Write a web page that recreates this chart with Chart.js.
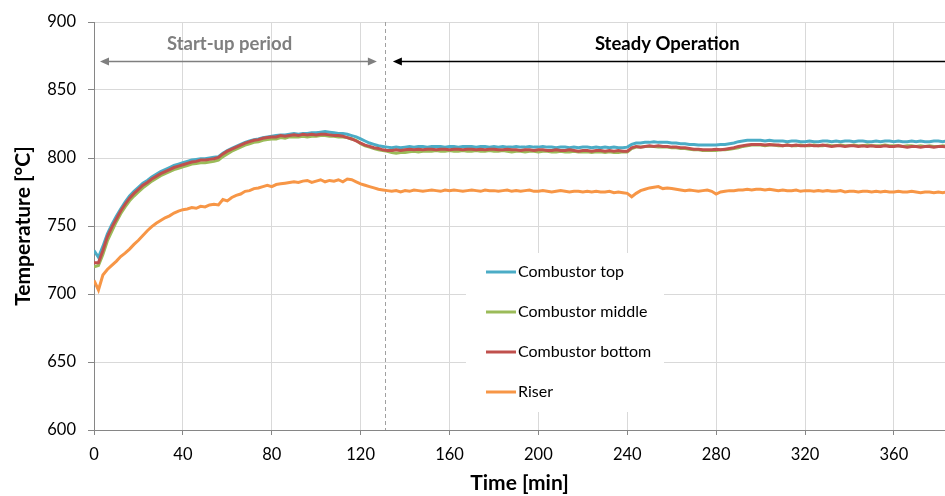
<!DOCTYPE html>
<html>
<head>
<meta charset="utf-8">
<script src="https://cdn.jsdelivr.net/npm/chart.js@4.4.0/dist/chart.umd.min.js"></script>
<style>
  html, body { margin: 0; padding: 0; background: #fff; }
  #wrap { width: 945px; height: 496px; }
</style>
</head>
<body>
<div id="wrap"><canvas id="chart" width="945" height="496"></canvas></div>
<script>
// Time axis (min), one reading every 2 minutes
const minutes = [
  0, 2, 4, 6, 8, 10, 12, 14, 16, 18,
  20, 22, 24, 26, 28, 30, 32, 34, 36, 38,
  40, 42, 44, 46, 48, 50, 52, 54, 56, 58,
  60, 62, 64, 66, 68, 70, 72, 74, 76, 78,
  80, 82, 84, 86, 88, 90, 92, 94, 96, 98,
  100, 102, 104, 106, 108, 110, 112, 114, 116, 118,
  120, 122, 124, 126, 128, 130, 132, 134, 136, 138,
  140, 142, 144, 146, 148, 150, 152, 154, 156, 158,
  160, 162, 164, 166, 168, 170, 172, 174, 176, 178,
  180, 182, 184, 186, 188, 190, 192, 194, 196, 198,
  200, 202, 204, 206, 208, 210, 212, 214, 216, 218,
  220, 222, 224, 226, 228, 230, 232, 234, 236, 238,
  240, 242, 244, 246, 248, 250, 252, 254, 256, 258,
  260, 262, 264, 266, 268, 270, 272, 274, 276, 278,
  280, 282, 284, 286, 288, 290, 292, 294, 296, 298,
  300, 302, 304, 306, 308, 310, 312, 314, 316, 318,
  320, 322, 324, 326, 328, 330, 332, 334, 336, 338,
  340, 342, 344, 346, 348, 350, 352, 354, 356, 358,
  360, 362, 364, 366, 368, 370, 372, 374, 376, 378,
  380, 382, 384
];

const combustorTop = [
  732, 727, 735, 744, 751, 757, 762.5, 767.5, 772, 775.5,
  778.5, 781.5, 783.5, 786, 788, 790, 791.5, 793, 794.5, 795.5,
  796.5, 797.5, 798.5, 799, 799.5, 799.5, 800, 800.5, 801, 803.5,
  805.5, 807, 808.5, 810, 811.5, 812.5, 813.5, 814, 815, 815.5,
  816, 816.5, 817, 817, 817.5, 818, 817.5, 818, 818, 818.5,
  818.5, 819, 819.5, 819, 818.5, 818, 818, 817.5, 816.5, 815.5,
  814, 812.5, 811, 810, 809, 808.5, 808, 807.5, 808, 807.5,
  808, 808.5, 808, 808.5, 808.5, 808, 808.5, 808.5, 808.5, 808,
  808.5, 808.5, 808, 808.5, 808.5, 808.5, 808, 808.5, 808.5, 808,
  808.5, 808, 808.5, 808, 808, 808.5, 808, 808, 808.5, 808,
  808, 808.5, 808, 808, 807.5, 808, 808, 807.5, 808, 807.5,
  808, 808, 807.5, 808, 807.5, 808, 807.5, 808, 807.5, 807.5,
  808, 810, 811, 811, 811.5, 811.5, 812, 811.5, 811.5, 811.5,
  811, 811, 810.5, 810.5, 810, 810, 809.5, 809.5, 809.5, 809.5,
  809.5, 810, 810, 810.5, 811, 812, 812.5, 813, 813, 813,
  813, 812.5, 813, 812.5, 812.5, 812.5, 812, 812.5, 812.5, 812,
  812, 812.5, 812, 812, 812.5, 812.5, 812, 812.5, 812, 812.5,
  812.5, 812, 812.5, 812.5, 812, 812, 812.5, 812, 812.5, 812.5,
  812, 812.5, 812, 812, 812.5, 812, 812.5, 812, 812, 812.5,
  812.5, 812, 812.5
];

const combustorMiddle = [
  720, 721, 729, 739, 746, 753, 759, 764, 768.5, 772,
  775, 778, 780.5, 783, 785, 787, 788.5, 790, 791.5, 792.5,
  793.5, 794.5, 795.5, 796, 796.5, 796.5, 797, 797.5, 798.5, 801,
  803, 805, 806.5, 808, 809.5, 810.5, 811.5, 812, 813, 813.5,
  814, 814, 815, 814.5, 815.5, 815.5, 815.5, 816, 815.5, 816,
  816, 816.5, 816.5, 816, 816, 815.5, 815.5, 815, 814, 813,
  810.5, 809, 808, 807, 806, 805.5, 805, 804, 803.5, 804,
  804, 804.5, 805, 804.5, 805, 805, 805, 805.5, 805, 805,
  805.5, 805, 805, 805.5, 805, 805, 805.5, 805, 805, 805.5,
  805, 805, 805.5, 805, 804.5, 805, 805, 804.5, 805, 805,
  804.5, 805, 805, 804.5, 804.5, 805, 804.5, 804.5, 805, 804.5,
  804.5, 804.5, 804, 804.5, 804.5, 804, 804.5, 804, 804, 804.5,
  804.5, 807, 808, 808, 808.5, 808.5, 808.5, 808, 808, 808,
  807.5, 807.5, 807, 807, 806.5, 806, 806, 805.5, 805.5, 805.5,
  805.5, 806, 806, 806.5, 807, 807.5, 808.5, 809, 809.5, 809.5,
  809.5, 809, 809.5, 809.5, 809, 809, 809.5, 809, 809, 809.5,
  809, 809, 809.5, 809, 809, 809.5, 809, 809, 809.5, 809,
  809, 809.5, 809, 809, 809.5, 809, 809, 809, 809.5, 809,
  809, 809, 808.5, 809, 809, 808.5, 809, 808.5, 809, 808.5,
  808.5, 809, 808.5
];

const combustorBottom = [
  723, 723, 732, 742, 749, 755, 761, 766, 770.5, 774,
  777, 780, 782, 784.5, 786.5, 788.5, 790, 791.5, 793, 794,
  795, 796, 797, 797.5, 798.5, 798.5, 799, 799.5, 800.5, 803,
  805, 806.5, 808, 809.5, 811, 812, 813, 813.5, 814.5, 815,
  815.5, 815.5, 816.5, 816, 816.5, 817, 816.5, 817.5, 817, 817.5,
  817, 817.5, 817.5, 817, 816.5, 816.5, 816, 815, 814, 812.5,
  811, 809.5, 808.5, 807.5, 807, 806, 805.5, 805.5, 806, 805.5,
  806, 806.5, 806, 806.5, 806, 806.5, 806.5, 806, 806.5, 806.5,
  806, 806.5, 806.5, 806, 806.5, 806.5, 806, 806.5, 806, 806.5,
  806.5, 806, 806, 806.5, 806, 806, 805.5, 806, 806, 805.5,
  806, 806, 805.5, 805.5, 806, 805.5, 805.5, 806, 805.5, 805,
  805.5, 805.5, 805, 805.5, 805.5, 805, 805.5, 805, 805.5, 805,
  805, 807.5, 808.5, 808, 808.5, 809, 808.5, 809, 808.5, 808.5,
  808, 808, 807.5, 807.5, 807, 806.5, 806.5, 806, 806, 806,
  806.5, 806, 806.5, 807, 807.5, 808.5, 809, 809.5, 810, 810,
  810, 809.5, 810, 809.5, 809.5, 809, 809.5, 809, 809.5, 809,
  809, 809.5, 809, 809, 809.5, 809, 808.5, 809, 809, 808.5,
  809, 809, 808.5, 809, 808.5, 809, 808.5, 808.5, 809, 808.5,
  808.5, 809, 808.5, 808, 808.5, 808.5, 808, 808.5, 808.5, 808,
  808.5, 808.5, 808
];

const riser = [
  710, 703, 714, 718, 721, 724, 727.5, 730, 733, 736.5,
  739.5, 743, 746.5, 749.5, 752, 754, 756, 757.5, 759.5, 761,
  762, 762.5, 763.5, 763, 764.5, 764, 765.5, 766, 765.5, 769.5,
  768.5, 771, 772.5, 773.5, 775.5, 776, 777.5, 778, 779, 780,
  779, 780.5, 781, 781.5, 782, 782.5, 782, 783, 783.5, 782,
  783, 784, 782.5, 783.5, 783, 784, 782.5, 784.5, 784, 782.5,
  781, 780, 779, 778, 777, 776.5, 776, 775.5, 776, 775,
  776, 775.5, 776.5, 776, 775.5, 776, 776.5, 776, 775.5, 776.5,
  776, 776.5, 776, 775.5, 776, 776.5, 776, 775.5, 776.5, 776,
  776, 775.5, 776, 776.5, 775.5, 776, 775.5, 776, 776.5, 775.5,
  775.5, 776, 775.5, 775, 775.5, 776, 775.5, 775, 775.5, 775.5,
  775, 775.5, 775, 775.5, 775, 775, 775.5, 774.5, 775, 774.5,
  774, 771.5, 774, 776, 777, 778, 778.5, 779, 777.5, 778,
  777.5, 777, 776.5, 776, 776.5, 776, 775.5, 776, 776.5, 775.5,
  773.5, 775, 775.5, 776, 776, 776.5, 776.5, 777, 776.5, 777,
  777, 776.5, 777, 776.5, 776, 776.5, 776, 776, 776.5, 775.5,
  776, 776, 775.5, 776, 775.5, 776, 775.5, 775.5, 776, 775,
  775.5, 775.5, 775, 775.5, 775.5, 775, 775.5, 775, 775.5, 775,
  775, 775.5, 775, 775, 775.5, 775, 774.5, 775, 775, 774.5,
  775, 774.5, 775
];

const seriesNames = ["Combustor top", "Combustor middle", "Combustor bottom", "Riser"];
const seriesColors = ["#4bacc6", "#9bbb59", "#c0504d", "#f79646"];
const seriesValues = [combustorTop, combustorMiddle, combustorBottom, riser];

// phase markers (min) and labels
const phaseSwitch = 131;
const startupArrow = [2.7, 127.3];
const steadyArrowStart = 134.5;
const arrowLevel = 871.5;
const labelLevel = 884;
const startupLabel = { text: "Start-up period", at: 61 };
const steadyLabel = { text: "Steady Operation", at: 258 };

Chart.defaults.font.family = "Lato, 'Open Sans', sans-serif";
Chart.defaults.color = "#000";

function drawArrow(ctx, x1, x2, y, color, headLeft, headRight) {
  ctx.save();
  ctx.strokeStyle = color;
  ctx.fillStyle = color;
  ctx.lineWidth = 1.5;
  ctx.beginPath();
  ctx.moveTo(x1 + (headLeft ? 6 : 0), y);
  ctx.lineTo(x2 - (headRight ? 6 : 0), y);
  ctx.stroke();
  if (headLeft) {
    ctx.beginPath();
    ctx.moveTo(x1, y);
    ctx.lineTo(x1 + 9, y - 4);
    ctx.lineTo(x1 + 9, y + 4);
    ctx.closePath();
    ctx.fill();
  }
  if (headRight) {
    ctx.beginPath();
    ctx.moveTo(x2, y);
    ctx.lineTo(x2 - 9, y - 4);
    ctx.lineTo(x2 - 9, y + 4);
    ctx.closePath();
    ctx.fill();
  }
  ctx.restore();
}

const phasePlugin = {
  id: "phases",
  beforeDatasetsDraw(chart) {
    const { ctx, chartArea, scales } = chart;
    const x = Math.round(scales.x.getPixelForValue(phaseSwitch)) + 0.5;
    ctx.save();
    ctx.strokeStyle = "#a0a0a0";
    ctx.lineWidth = 1;
    ctx.setLineDash([4, 3]);
    ctx.beginPath();
    ctx.moveTo(x, chartArea.top);
    ctx.lineTo(x, chartArea.bottom);
    ctx.stroke();
    ctx.restore();
  },
  afterDatasetsDraw(chart) {
    const { ctx, chartArea, scales } = chart;
    const y = Math.round(scales.y.getPixelForValue(arrowLevel)) + 0.5;
    drawArrow(ctx, scales.x.getPixelForValue(startupArrow[0]),
      scales.x.getPixelForValue(startupArrow[1]), y, "#7f7f7f", true, true);
    drawArrow(ctx, scales.x.getPixelForValue(steadyArrowStart),
      chartArea.right, y, "#000", true, false);

    const ty = scales.y.getPixelForValue(labelLevel);
    ctx.save();
    ctx.font = "bold 18.5px Lato, sans-serif";
    ctx.textAlign = "center";
    ctx.textBaseline = "middle";
    ctx.fillStyle = "#7f7f7f";
    ctx.fillText(startupLabel.text, scales.x.getPixelForValue(startupLabel.at), ty);
    ctx.fillStyle = "#000";
    ctx.fillText(steadyLabel.text, scales.x.getPixelForValue(steadyLabel.at), ty);
    ctx.restore();
  },
  afterDraw(chart) {
    // legend box inside the plot
    const { ctx } = chart;
    const box = { left: 466, top: 253, width: 198, height: 159 };
    ctx.save();
    ctx.fillStyle = "#fff";
    ctx.fillRect(box.left, box.top, box.width, box.height);
    ctx.font = "16px Lato, sans-serif";
    ctx.textBaseline = "middle";
    ctx.textAlign = "left";
    seriesNames.forEach((name, i) => {
      const y = box.top + 19 + i * 40;
      ctx.strokeStyle = seriesColors[i];
      ctx.lineWidth = 3;
      ctx.beginPath();
      ctx.moveTo(486, y);
      ctx.lineTo(516, y);
      ctx.stroke();
      ctx.fillStyle = "#000";
      ctx.fillText(name, 518, y);
    });
    ctx.restore();
  }
};

const datasets = seriesNames.map((name, i) => ({
  label: name,
  data: minutes.map((t, j) => ({ x: t, y: seriesValues[i][j] })),
  borderColor: seriesColors[i],
  backgroundColor: seriesColors[i],
  borderWidth: 3,
  pointRadius: 0,
  tension: 0,
  order: 4 - i,
}));

new Chart(document.getElementById("chart"), {
  type: "line",
  data: { datasets },
  plugins: [phasePlugin],
  options: {
    responsive: false,
    animation: false,
    layout: { padding: { top: 22, right: 0, left: 0, bottom: 0 } },
    plugins: { legend: { display: false }, tooltip: { enabled: false } },
    scales: {
      x: {
        type: "linear",
        min: 0,
        max: 383,
        afterFit: (s) => { s.height = 66; },
        ticks: { stepSize: 40, includeBounds: false, padding: 10, font: { size: 16.5 }, color: "#000", maxRotation: 0 },
        grid: { color: "#d9d9d9", tickColor: "#868686", tickLength: 5 },
        border: { color: "#868686" },
        title: { display: true, text: "Time [min]", font: { size: 21, weight: "bold" }, padding: { top: 0, bottom: 0 } },
      },
      y: {
        min: 600,
        max: 900,
        afterFit: (s) => { s.width = 94; },
        ticks: { stepSize: 50, padding: 12, font: { size: 16.5 }, color: "#000" },
        grid: { color: "#d9d9d9", tickColor: "#868686", tickLength: 6 },
        border: { color: "#868686" },
        title: { display: true, text: "Temperature [°C]", font: { size: 21, weight: "bold" }, padding: { top: 11, bottom: 0 } },
      },
    },
  },
});
</script>
</body>
</html>
